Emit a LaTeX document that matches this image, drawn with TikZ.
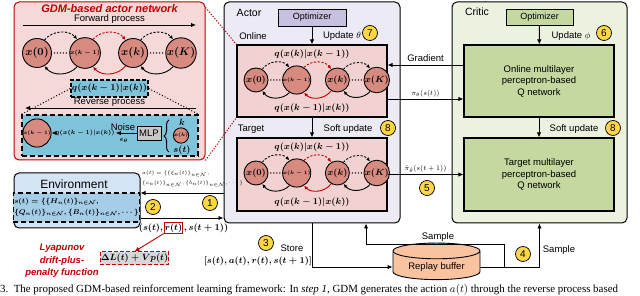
\documentclass[tikz,border=0pt]{standalone}
\usepackage{amsmath,amssymb}
\usepackage{fontspec}
\setmainfont{Liberation Serif}
\setsansfont{Liberation Sans}
\usepackage{tikz}
\usetikzlibrary{arrows.meta,positioning,calc,decorations.pathreplacing,shapes.geometric}
\definecolor{GDMred}{RGB}{192,0,0}
\definecolor{GDMbg}{RGB}{245,216,216}
\definecolor{Xc}{RGB}{214,138,128}
\definecolor{Cyanc}{RGB}{128,196,220}
\definecolor{ActorBg}{RGB}{236,234,244}
\definecolor{ActorOpt}{RGB}{200,192,222}
\definecolor{NetPink}{RGB}{242,210,208}
\definecolor{CriticBg}{RGB}{235,242,224}
\definecolor{CriticG}{RGB}{196,216,160}
\definecolor{EnvBg}{RGB}{212,228,245}
\definecolor{EnvIn}{RGB}{165,205,232}
\definecolor{NumY}{RGB}{255,214,70}
\definecolor{BufC}{RGB}{250,195,160}
\definecolor{LyapG}{RGB}{215,215,215}
\definecolor{MLPg}{RGB}{200,200,200}
\tikzset{
  gdmpanel/.style={draw=GDMred,line width=1pt,fill=GDMbg,rounded corners=5pt},
  panel/.style={draw=black,line width=1pt,rounded corners=5pt},
  xbig/.style={circle,draw=black,line width=0.9pt,fill=Xc,minimum size=29pt,inner sep=0pt,
               font=\boldmath\fontsize{10.5}{12}\selectfont},
  xmid/.style={xbig,minimum size=24pt,font=\boldmath\fontsize{9}{10}\selectfont},
  dotrow/.style={line width=1.5pt,line cap=round,dash pattern=on 0pt off 3pt,
                 shorten <=2.5pt,shorten >=1.5pt},
  fwd/.style={-{Latex[length=4pt,width=3.5pt]},dash pattern=on 2.2pt off 1.6pt,line width=0.9pt},
  rev/.style={-{Latex[length=4pt,width=3.5pt]},line width=0.9pt},
  flow/.style={-{Latex[length=5pt,width=4.5pt]},line width=0.9pt},
  redflow/.style={flow,GDMred},
  reddot/.style={GDMred,line width=1pt,dash pattern=on 1.2pt off 1.6pt},
  qbox/.style={draw=black,line width=1.2pt,dash pattern=on 4pt off 2pt,fill=Cyanc,
               minimum width=75pt,minimum height=17pt,inner sep=1pt,
               font=\boldmath\fontsize{9}{10}\selectfont},
  dbox/.style={draw=black,line width=1.3pt,dash pattern=on 5pt off 3pt,fill=Cyanc},
  mlpbox/.style={draw=black,line width=0.9pt,fill=MLPg,minimum width=24pt,minimum height=14pt,
                 inner sep=0pt,font=\sffamily\fontsize{9.5}{11}\selectfont},
  optbox/.style={draw=black,line width=0.9pt,minimum width=68pt,minimum height=17pt,
                 font=\sffamily\fontsize{9}{11}\selectfont},
  netbox/.style={draw=black,line width=1.1pt,minimum width=150pt,minimum height=72pt,
                 align=center,font=\sffamily\fontsize{9.5}{11.5}\selectfont},
  numc/.style={circle,draw=black,line width=0.7pt,fill=NumY,minimum size=15pt,inner sep=0pt,
               font=\sffamily\fontsize{10}{11}\selectfont},
  lbl/.style={font=\sffamily\fontsize{9.5}{11}\selectfont,inner sep=1pt},
  hdr/.style={font=\sffamily\fontsize{10.5}{12}\selectfont,inner sep=1pt},
  mathlbl/.style={font=\boldmath\fontsize{9.5}{11}\selectfont,inner sep=1pt},
  smallmath/.style={font=\fontsize{7.5}{9}\selectfont,inner sep=1pt},
}
% one forward/reverse diffusion chain x(0) ... x(K)
\newcommand{\chainrow}[6]{%
  \node[#5] (#1a) at (#2,#3) {$x(0)$};
  \node[#5,right=#4 of #1a,font=#6] (#1b) {$x(k-1)$};
  \node[#5,right=#4 of #1b] (#1c) {$x(k)$};
  \node[#5,right=#4 of #1c] (#1d) {$x(K)$};
  \draw[dotrow] (#1a.east) -- (#1b.west);
  \draw[dotrow] (#1c.east) -- (#1d.west);
  \draw[fwd] (#1a.60) to[bend left=50] (#1b.120);
  \draw[fwd,GDMred] (#1b.60) to[bend left=50] (#1c.120);
  \draw[fwd] (#1c.60) to[bend left=50] (#1d.120);
  \draw[rev] (#1b.-120) to[bend left=50] (#1a.-60);
  \draw[rev,GDMred] (#1c.-120) to[bend left=50] (#1b.-60);
  \draw[rev] (#1d.-120) to[bend left=50] (#1c.-60);
}
\begin{document}
\begin{tikzpicture}[x=1pt,y=1pt,font=\sffamily]
  \useasboundingbox (0,0) rectangle (640,-296);

  % GDM-based actor network
  \node[gdmpanel,minimum width=191pt,minimum height=158pt] (gdm) at (109.5,-81) {};
  \node[font=\sffamily\bfseries\itshape\fontsize{11}{13}\selectfont,text=GDMred] (gdmtitle) at (109.5,-8.5) {GDM-based actor network};
  \coordinate (fwdL) at (23,-25);
  \coordinate (fwdR) at (196,-25);
  \draw[flow] (fwdL) -- (fwdR);
  \node[lbl] (fwdtxt) at (109.5,-19.5) {Forward process};
  \chainrow{g}{37}{-53}{17.3pt}{xbig}{\boldmath\fontsize{6.5}{7}\selectfont}
  \node[qbox] (glab) at (109.5,-88.5) {$q(x(k-1)|x(k))$};
  \coordinate (revR) at (196,-108);
  \coordinate (revL) at (25,-108);
  \draw[flow] (revR) -- (revL);
  \node[lbl] (revtxt) at (109.5,-102.5) {Reverse process};
  \node[dbox,minimum width=176pt,minimum height=41pt] (ginner) at (110,-135.5) {};
  \draw[dotted,line width=1pt] (glab.west) -- (ginner.north west);
  \draw[dotted,line width=1pt] (glab.east) -- (ginner.north east);
  \node[xbig,minimum size=26pt,font=\boldmath\fontsize{5}{6}\selectfont] (gik) at (37,-133) {$x(k-1)$};
  \node[font=\boldmath\fontsize{6}{7}\selectfont,inner sep=1pt] (gq) at (85,-133) {$q(x(k-1)|x(k))$};
  \node[mlpbox] (mlp) at (149,-133) {MLP};
  \draw[flow] (mlp.west) -- (gq.east);
  \draw[flow] (gq.west) -- (gik.east);
  \node[lbl] (noise) at (123,-127) {Noise};
  \node[font=\boldmath\fontsize{7}{8}\selectfont,inner sep=0pt] (eps) at (124,-140.5) {$\epsilon_\theta$};
  \draw[line width=1pt,decorate,decoration={brace,amplitude=5pt}] (169,-152) -- (169,-120);
  \node[mathlbl] (kin) at (182,-122.5) {$k$};
  \node[xbig,minimum size=13pt,font=\boldmath\fontsize{4}{5}\selectfont] (gxk) at (181,-135.5) {$x(k)$};
  \node[mathlbl] (sin) at (182,-150) {$s(t)$};

  % Actor
  \node[panel,fill=ActorBg,minimum width=176pt,minimum height=221pt] (actor) at (312,-112.5) {};
  \node[hdr] (actortxt) at (249,-13) {Actor};
  \node[optbox,fill=ActorOpt] (aopt) at (312,-17.5) {Optimizer};
  \node[netbox,fill=NetPink] (aon) at (312,-81) {};
  \node[netbox,fill=NetPink,minimum height=73pt] (atg) at (312,-174.5) {};
  \draw[flow] (aopt) -- (aon);
  \draw[flow] (aon) -- (atg);
  \node[lbl] (onltxt) at (253,-36) {Online};
  \node[lbl] (updth) at (342,-36) {Update $\theta$};
  \node[numc] (n7) at (370,-33) {7};
  \node[lbl] (tgttxt) at (251,-129.5) {Target};
  \node[lbl] (softa) at (348,-129.5) {Soft update};
  \node[numc] (n8a) at (388,-128) {8};
  \chainrow{o}{256}{-80}{13.7pt}{xmid}{\boldmath\fontsize{4.5}{5}\selectfont}
  \node[mathlbl] (oq1) at (312,-54) {$q(x(k)|x(k-1))$};
  \node[mathlbl] (oq2) at (312,-108) {$q(x(k-1)|x(k))$};
  \chainrow{t}{256}{-173}{13.7pt}{xmid}{\boldmath\fontsize{4.5}{5}\selectfont}
  \node[mathlbl] (tq1) at (312,-147.5) {$q(x(k)|x(k-1))$};
  \node[mathlbl] (tq2) at (312,-202) {$q(x(k-1)|x(k))$};
  \draw[reddot] ([yshift=-6pt]gdm.north east) -- (aon.north west);
  \draw[reddot] (gdm.south east) -- (aon.south west);

  % Critic
  \node[panel,fill=CriticBg,minimum width=175pt,minimum height=221pt] (critic) at (539.5,-112.5) {};
  \node[hdr] (crittxt) at (477,-12) {Critic};
  \node[optbox,fill=CriticG,minimum width=67pt,minimum height=16pt] (copt) at (539.5,-17) {Optimizer};
  \node[netbox,fill=CriticG] (con) at (539,-81) {Online multilayer\\perceptron-based\\Q network};
  \node[netbox,fill=CriticG,minimum height=73pt] (ctg) at (539,-174.5) {Target multilayer\\perceptron-based\\Q network};
  \draw[flow] (copt) -- (con);
  \draw[flow] (con) -- (ctg);
  \node[lbl] (updph) at (571,-36) {Update $\phi$};
  \node[numc] (n6) at (604,-33) {6};
  \node[lbl] (softc) at (574,-129.5) {Soft update};
  \node[numc] (n8b) at (613,-128) {8};

  % actor <-> critic
  \draw[flow] ([yshift=16pt]con.west) -- node[lbl,above=1.5pt] {Gradient} ([yshift=16pt]aon.east);
  \draw[flow] ([yshift=-18pt]aon.east) -- node[smallmath,above=0.5pt] {$\pi_\theta(s(t))$} ([yshift=-18pt]con.west);
  \draw[flow] (atg.east) -- node[smallmath,above=0.5pt] {$\hat{\pi}_{\hat{\theta}}(s(t+1))$} (ctg.west);
  \node[numc] (n5) at (427,-188) {5};

  % Environment
  \node[panel,fill=EnvBg,minimum width=126pt,minimum height=55pt] (env) at (77,-200.5) {};
  \node[font=\sffamily\fontsize{12}{14}\selectfont] (envtxt) at (74,-184) {Environment};
  \node[dbox,fill=EnvIn,minimum width=115pt,minimum height=29pt,inner sep=1pt,align=left,
        font=\boldmath\fontsize{6.9}{10.5}\selectfont] (envs) at (76.5,-207.5)
        {$s(t)=\{\{H_n(t)\}_{n\in\mathcal{N}},$\\$\{Q_n(t)\}_{n\in\mathcal{N}},\{B_n(t)\}_{n\in\mathcal{N}},\cdots\}$};
  \coordinate (eup) at ([yshift=7.5pt]env.east);
  \coordinate (edn) at ([yshift=-17.5pt]env.east);
  \draw[flow] (actor.west |- eup) -- (eup);
  \draw[flow] (edn) -- (actor.west |- edn);
  \node[anchor=north west,align=left,inner sep=0pt,font=\fontsize{5.3}{9.5}\selectfont] (atxt) at (142,-171)
        {$a(t)=\{\{\xi_n(t)\}_{n\in\mathcal{N}},$\\$\{c_n(t)\}_{n\in\mathcal{N}},\{b_n(t)\}_{n\in\mathcal{N}},\cdots\}$};
  \node[numc] (n2) at (153,-207) {2};
  \node[numc] (n1) at (210,-203) {1};
  \node[mathlbl,draw=GDMred,line width=0.9pt,inner sep=0.6pt] (rbox) at (173.5,-228) {$r(t)$};
  \node[mathlbl,left=0pt of rbox,inner sep=0.5pt] (rleft) {$(s(t),$};
  \node[mathlbl,right=0pt of rbox,inner sep=0.5pt] (rright) {$,s(t+1))$};
  \node[mathlbl,draw=GDMred,line width=1pt,dash pattern=on 4pt off 2pt,fill=LyapG,
        minimum width=65pt,minimum height=13pt,inner sep=0.5pt] (lyap) at (134.5,-258.5) {$\Delta L(t)+Vp(t)$};
  \draw[redflow] (rbox.south west) -- (lyap.north);
  \node[font=\sffamily\bfseries\itshape\fontsize{9.5}{12.5}\selectfont,text=GDMred,align=center] (lyaptxt) at (62,-261) {Lyapunov\\drift-plus-\\penalty function};

  % replay buffer
  \node[cylinder,shape border rotate=90,aspect=0.25,draw=black,line width=0.9pt,fill=BufC,
        minimum width=87pt,minimum height=28pt,font=\sffamily\fontsize{9.5}{11}\selectfont] (buffer) at (436.5,-267) {Replay buffer};
  \draw[flow] (actor.south) |- (buffer.west);
  \node[numc] (n3) at (266,-243) {3};
  \node[lbl] (storetxt) at (292,-248) {Store};
  \node[mathlbl] (sarsa) at (258,-261) {$[s(t),a(t),r(t),s(t+1)]$};
  \draw[flow] (buffer.east) -| (critic.south);
  \coordinate (sj) at (504,-267);
  \coordinate (sk) at (366,-244);
  \draw[flow] (sj) |- (sk) -- (sk |- actor.south);
  \node[lbl] (samp1) at (438,-237) {Sample};
  \node[numc] (n4) at (523,-254) {4};
  \node[lbl] (samp2) at (559,-250) {Sample};

  % caption line
  \node[anchor=west,inner sep=0pt,font=\rmfamily\fontsize{10.9}{12}\selectfont] (caption) at (0,-290)
        {3.\ \ The proposed GDM-based reinforcement learning framework: In \textit{step 1}, GDM generates the action $a(t)$ through the reverse process based};
\end{tikzpicture}
\end{document}
